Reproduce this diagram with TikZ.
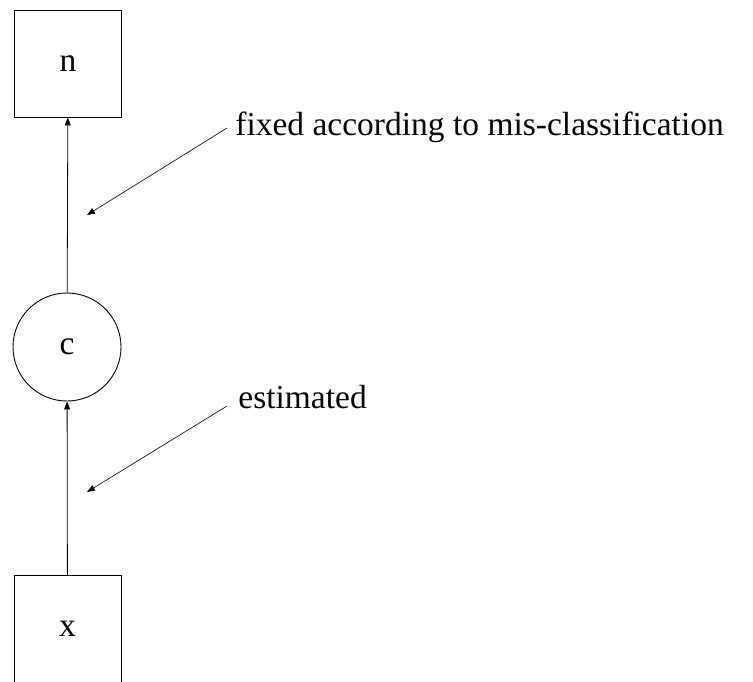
\documentclass[tikz,border=0pt]{standalone}
\usepackage{fontspec}
\setmainfont{Liberation Serif}
\usetikzlibrary{arrows.meta}
\begin{document}
\begin{tikzpicture}[
      x=1pt, y=-1pt,
      font=\fontsize{33.5}{40}\selectfont,
      obs/.style={rectangle, draw, line width=0.9pt, minimum width=107pt, minimum height=107pt},
      latent/.style={circle, draw, line width=0.9pt, minimum size=108pt, inner sep=0pt},
      note/.style={inner sep=0pt, anchor=base west},
      -{Triangle[length=8pt,width=6pt]}, line width=0.8pt
  ]
  \useasboundingbox (0,0) rectangle (753,681);

  % Nodes stacked in one column
  \node[obs] (n) at (68,63.5) {n};
  \node[latent] (c) at (67,347) {c};
  \node[obs] (x) at (67.5,629) {x};

  % Notes on the paths
  \node[note] (fixlbl) at (235,135) {fixed according to mis-classification};
  \node[note] (estlbl) at (238,408) {estimated};
  \coordinate (fixtip) at (87,215);
  \coordinate (esttip) at (87,492);

  % Arrows connecting nodes
  \draw (x) -- (c);
  \draw (c) -- (n);
  \draw[line width=0.6pt] ([xshift=-8pt,yshift=7pt]fixlbl.base west) -- (fixtip);
  \draw[line width=0.6pt] ([xshift=-11pt,yshift=2pt]estlbl.base west) -- (esttip);

  \end{tikzpicture}
\end{document}
